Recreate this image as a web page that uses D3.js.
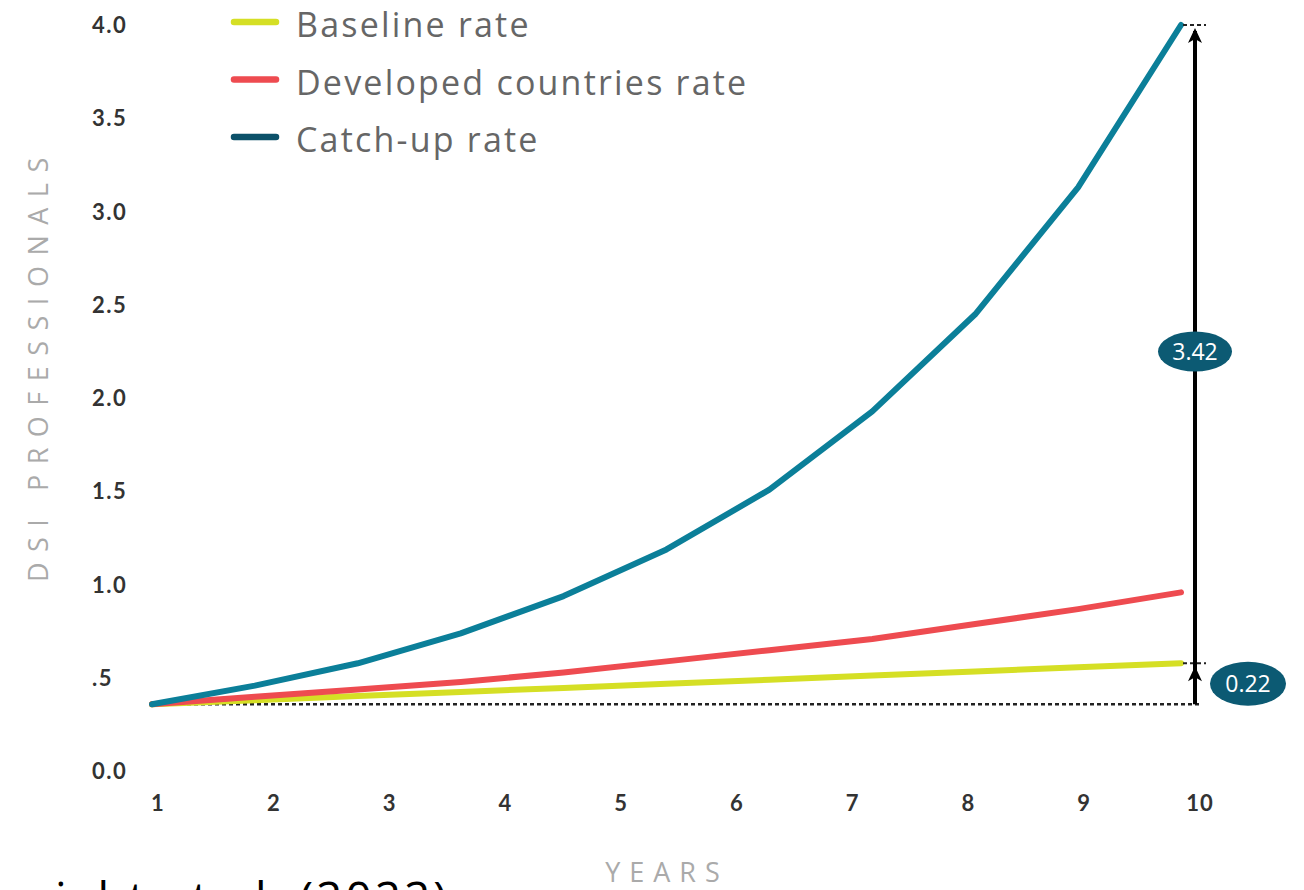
<!DOCTYPE html>
<html>
<head>
<title>DSI professionals growth</title>
<script src="https://d3js.org/d3.v7.min.js"></script>
<style>
  body { margin: 0; background: #fff; }
  svg { display: block; }
</style>
</head>
<body>
<div id="chart"></div>
<script type="text/javascript">

  const yearLabels = [1, 2, 3, 4, 5, 6, 7, 8, 9, 10];
  const yTicks = [0, 0.5, 1.0, 1.5, 2.0, 2.5, 3.0, 3.5, 4.0];
  const yTickLabels = ["0.0", ".5", "1.0", "1.5", "2.0", "2.5", "3.0", "3.5", "4.0"];
  const steps = [0, 1, 2, 3, 4, 5, 6, 7, 8, 9, 10];

  const baseline = [0.36, 0.382, 0.404, 0.426, 0.448, 0.47, 0.492, 0.514, 0.536, 0.558, 0.58];
  const developed = [0.36, 0.40, 0.44, 0.48, 0.53, 0.59, 0.65, 0.71, 0.79, 0.87, 0.96];
  const catchUp = [0.36, 0.46, 0.58, 0.74, 0.94, 1.19, 1.51, 1.93, 2.45, 3.13, 4.0];

  const seriesNames = ["Baseline rate", "Developed countries rate", "Catch-up rate"];
  const lineColors = ["#d5df25", "#ee4b50", "#0b7f99"];
  const legendColors = ["#d5df25", "#ee4b50", "#0c5169"];

  const gapLabels = ["3.42", "0.22"];

  const width = 1304, height = 890;

  const svg = d3.select("#chart")
    .append("svg")
    .attr("width", width)
    .attr("height", height);

  // scales
  const x = d3.scaleLinear().domain([1, 10]).range([158, 1200]);
  const xStep = d3.scaleLinear().domain([0, 10]).range([152, 1181]);
  const y = d3.scaleLinear().domain([0, 4]).range([771.5, 25]);

  // y tick labels
  svg.append("g")
    .selectAll("text")
    .data(yTicks)
    .join("text")
    .attr("x", 92)
    .attr("y", d => y(d))
    .attr("dy", "0.36em")
    .attr("font-family", "Lato, 'Open Sans', sans-serif")
    .attr("font-weight", 700)
    .attr("font-size", 22)
    .attr("letter-spacing", 1.5)
    .attr("fill", "#333")
    .text((d, i) => yTickLabels[i]);

  // x tick labels
  svg.append("g")
    .selectAll("text")
    .data(yearLabels)
    .join("text")
    .attr("x", d => x(d))
    .attr("y", 803)
    .attr("dy", "0.36em")
    .attr("text-anchor", "middle")
    .attr("font-family", "Lato, 'Open Sans', sans-serif")
    .attr("font-weight", 700)
    .attr("font-size", 22)
    .attr("letter-spacing", 1)
    .attr("fill", "#333")
    .text(d => d);

  // axis titles
  svg.append("text")
    .attr("transform", "translate(48," + y(2.18) + ") rotate(-90)")
    .attr("text-anchor", "middle")
    .attr("font-family", "'Open Sans', sans-serif")
    .attr("font-size", 27)
    .attr("letter-spacing", 10.5)
    .attr("fill", "#aaa")
    .text("DSI PROFESSIONALS");

  svg.append("text")
    .attr("x", 667)
    .attr("y", 882)
    .attr("text-anchor", "middle")
    .attr("font-family", "'Open Sans', sans-serif")
    .attr("font-size", 27)
    .attr("letter-spacing", 9)
    .attr("fill", "#aaa")
    .text("YEARS");

  // dotted start level
  svg.append("line")
    .attr("x1", xStep(0))
    .attr("x2", x(10))
    .attr("y1", y(baseline[0]))
    .attr("y2", y(baseline[0]))
    .attr("stroke", "#222")
    .attr("stroke-width", 2.5)
    .attr("stroke-dasharray", "4,3");

  // series lines
  const line = d3.line()
    .x((d, i) => xStep(steps[i]))
    .y(d => y(d));

  [baseline, developed, catchUp].forEach((values, i) => {
    svg.append("path")
      .datum(values)
      .attr("d", line)
      .attr("fill", "none")
      .attr("stroke", lineColors[i])
      .attr("stroke-width", 6)
      .attr("stroke-linejoin", "round")
      .attr("stroke-linecap", "round");
  });

  // gap annotation
  const arrowX = 1195;
  const topVal = catchUp[catchUp.length - 1];
  const midVal = baseline[baseline.length - 1];
  const startVal = baseline[0];

  [topVal, midVal].forEach(v => {
    svg.append("line")
      .attr("x1", xStep(10) + 2)
      .attr("x2", arrowX + 11)
      .attr("y1", y(v))
      .attr("y2", y(v))
      .attr("stroke", "#222")
      .attr("stroke-width", 2)
      .attr("stroke-dasharray", "4,3");
  });

  svg.append("line")
    .attr("x1", arrowX)
    .attr("x2", arrowX)
    .attr("y1", y(startVal))
    .attr("y2", y(topVal) + 6)
    .attr("stroke", "#000")
    .attr("stroke-width", 4);

  [topVal, midVal].forEach(v => {
    const tip = y(v) + 3;
    svg.append("path")
      .attr("d", "M" + arrowX + "," + tip + " L" + (arrowX - 7) + "," + (tip + 15) +
        " L" + arrowX + "," + (tip + 11) + " L" + (arrowX + 7) + "," + (tip + 15) + "Z")
      .attr("fill", "#000");
  });

  const bubbles = [
    { label: gapLabels[0], cx: arrowX, cy: y(2.25), rx: 37, ry: 20 },
    { label: gapLabels[1], cx: 1248, cy: y((startVal + midVal) / 2), rx: 38, ry: 22 }
  ];

  const bubble = svg.append("g")
    .selectAll("g")
    .data(bubbles)
    .join("g");

  bubble.append("ellipse")
    .attr("cx", d => d.cx)
    .attr("cy", d => d.cy)
    .attr("rx", d => d.rx)
    .attr("ry", d => d.ry)
    .attr("fill", "#0c5a73");

  bubble.append("text")
    .attr("x", d => d.cx)
    .attr("y", d => d.cy)
    .attr("dy", "0.36em")
    .attr("text-anchor", "middle")
    .attr("font-family", "'Open Sans', sans-serif")
    .attr("font-size", 23)
    .attr("fill", "#fff")
    .text(d => d.label);

  // legend
  const legend = svg.append("g")
    .selectAll("g")
    .data(seriesNames)
    .join("g")
    .attr("transform", (d, i) => "translate(232," + (22 + i * 57.5) + ")");

  legend.append("line")
    .attr("x1", 2)
    .attr("x2", 44)
    .attr("stroke", (d, i) => legendColors[i])
    .attr("stroke-width", 6.5)
    .attr("stroke-linecap", "round");

  legend.append("text")
    .attr("x", 64)
    .attr("y", 3)
    .attr("dy", "0.36em")
    .attr("font-family", "'Open Sans', sans-serif")
    .attr("font-size", 34)
    .attr("letter-spacing", 2.2)
    .attr("fill", "#666")
    .text(d => d);

  // clipped source line at bottom
  svg.append("text")
    .attr("x", 55)
    .attr("y", 915)
    .attr("font-family", "'Open Sans', sans-serif")
    .attr("font-size", 46)
    .attr("letter-spacing", 3)
    .attr("fill", "#000")
    .text("ight et al. (2022)");

</script>
</body>
</html>
